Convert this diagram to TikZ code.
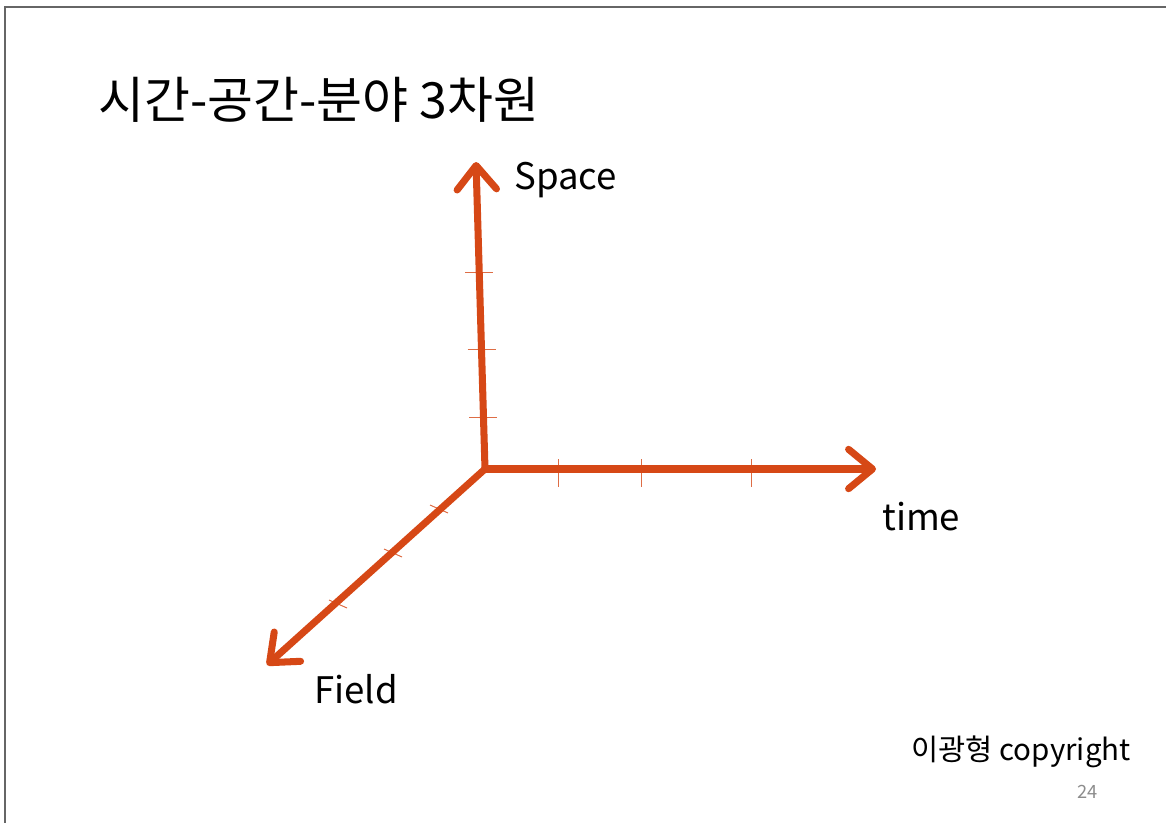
\documentclass[tikz,border=0pt]{standalone}
\usepackage{fontspec}
\setmainfont{Noto Sans CJK KR}
\usetikzlibrary{arrows.meta}
\definecolor{axisorange}{RGB}{214,72,22}

\begin{document}
\begin{tikzpicture}[x=0.025cm, y=-0.025cm,
		axis/.style={draw=axisorange, line width=5pt, line cap=round, -{Straight Barb[length=17pt, width=28pt, line cap=round, line join=round]}},
		tick/.style={draw=axisorange!80, line width=0.7pt},
		label/.style={anchor=west, inner sep=0pt, font=\fontsize{26}{30}\selectfont},
		frameline/.style={draw=black!60, line width=1.3pt}]
	\useasboundingbox (0,0) rectangle (1166,823);
	\draw[frameline] (5,823) -- (5,7) -- (1166,7);
	
	\node[anchor=west, inner sep=0pt, font=\fontsize{35.5}{40}\selectfont] (title) at (98,100) {시간-공간-분야 3차원};
	
	\coordinate (origin) at (485,469);
	\coordinate (spacetip) at (476,162);
	\coordinate (timetip) at (876,469);
	\coordinate (fieldtip) at (267,665);
	
	% tick marks
	\foreach \y in {272,349,417}
		\draw[tick] ({476+9*(\y-160)/309-14},\y) -- ++(28,0);
	\foreach \x in {558,641,751}
		\draw[tick] (\x,459) -- ++(0,28);
	\foreach \x/\y in {439/509,393/553,338/604}
		\draw[tick] (\x-9,\y-4) -- ++(18,8);
	
	\draw[axis] (origin) -- (spacetip);
	\draw[axis] (origin) -- (timetip);
	\draw[axis] (origin) -- (fieldtip);
	
	\node[label] (space) at (514,180) {Space};
	\node[label] (time) at (882,517) {time};
	\node[label] (field) at (314,689) {Field};
	
	\node[anchor=east, inner sep=0pt, font=\fontsize{21}{25}\selectfont] (copyright) at (1131,752) {이광형 copyright};
	\node[anchor=east, inner sep=0pt, text=black!45, font=\fontsize{13}{15}\selectfont] (pagenum) at (1098,792) {24};
\end{tikzpicture}
\end{document}
